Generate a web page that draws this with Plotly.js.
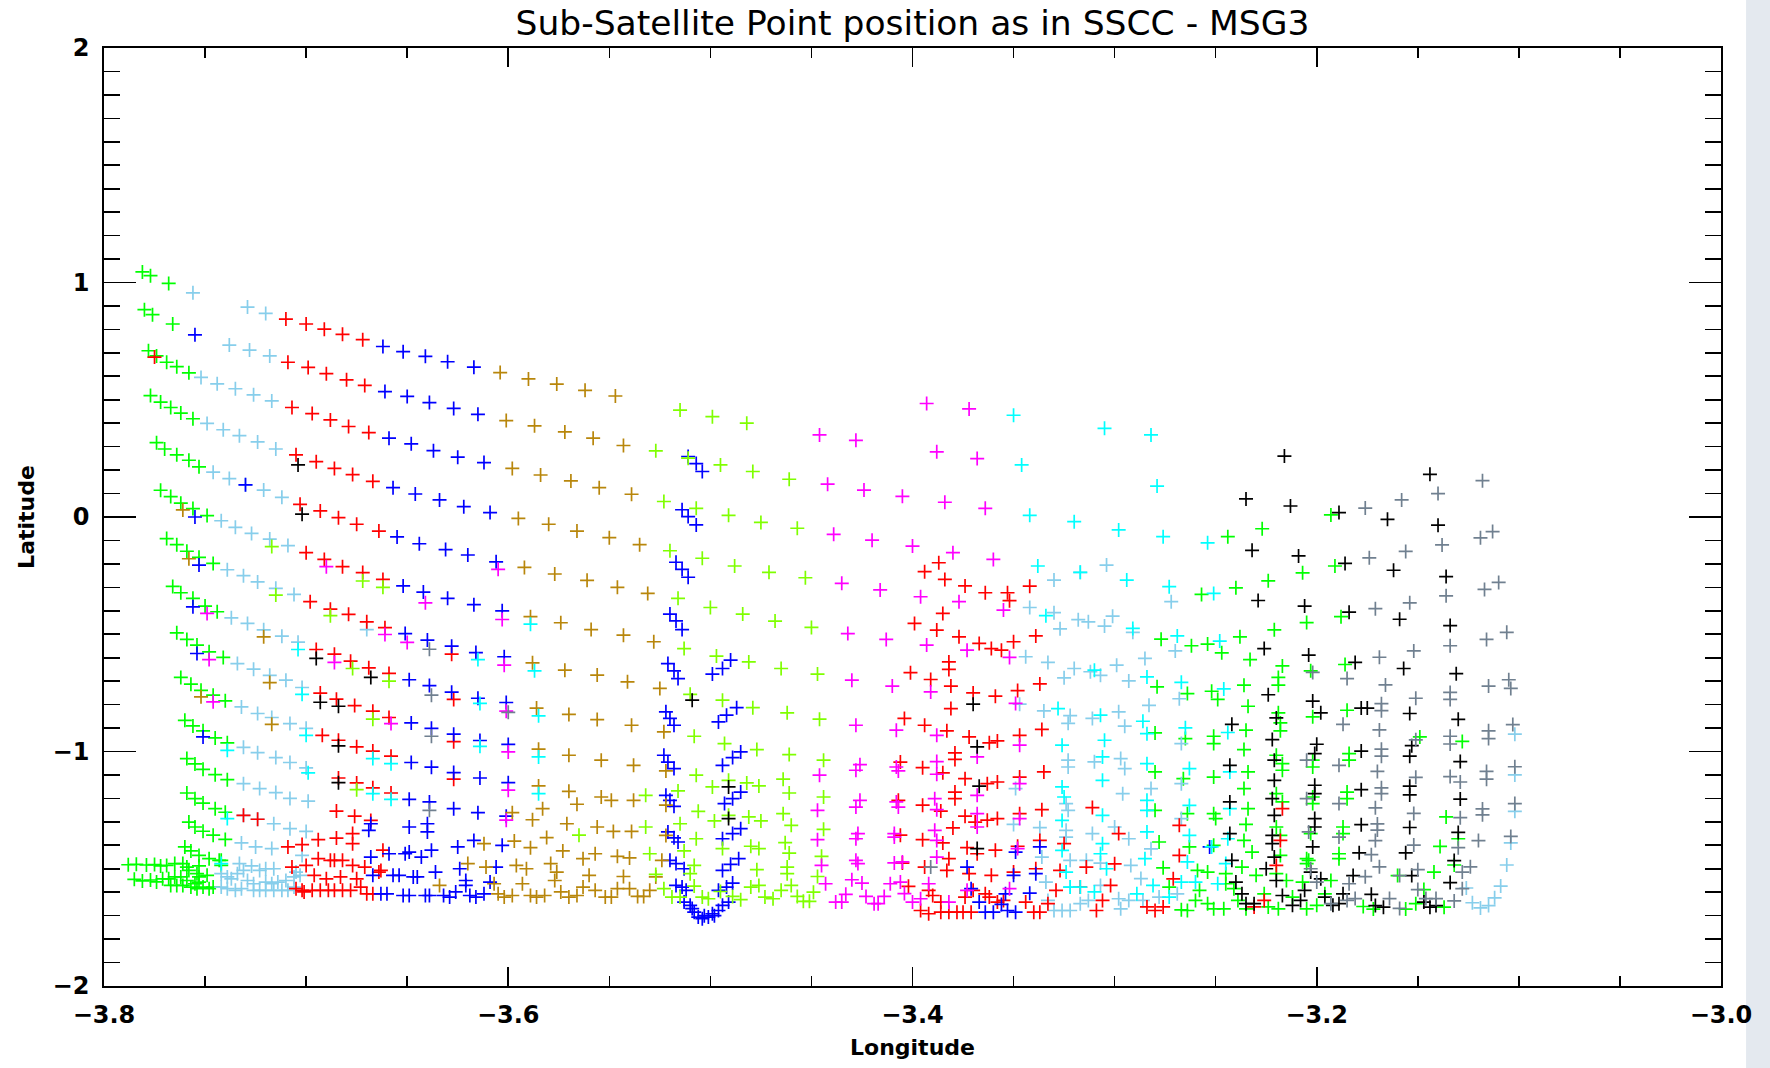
<!DOCTYPE html>
<html>
<head>
<meta charset="utf-8">
<script src="https://cdn.plot.ly/plotly-3.0.1.min.js"></script>
<style>html,body{margin:0;padding:0;background:#fff;}#chart{width:1770px;height:1068px;}</style>
</head>
<body>
<div id="chart"></div>
<script>
// [longitude, latitude] pairs, one array per colour series
const green = [
[-3.781,1.045],[-3.777,1.029],[-3.768,0.996],
[-3.780,0.884],[-3.776,0.863],[-3.766,0.823],
[-3.778,0.709],[-3.774,0.687],[-3.769,0.660],[-3.764,0.641],[-3.758,0.615],
[-3.777,0.518],[-3.772,0.490],[-3.767,0.467],[-3.762,0.443],[-3.756,0.419],
[-3.774,0.317],[-3.770,0.290],[-3.764,0.265],[-3.758,0.242],[-3.753,0.214],
[-3.772,0.114],[-3.767,0.087],[-3.762,0.059],[-3.756,0.036],[-3.749,0.006],
[-3.769,-0.092],[-3.764,-0.118],[-3.759,-0.146],[-3.753,-0.172],[-3.746,-0.198],
[-3.766,-0.296],[-3.762,-0.323],[-3.756,-0.347],[-3.750,-0.380],[-3.744,-0.404],
[-3.764,-0.494],[-3.759,-0.522],[-3.754,-0.546],[-3.748,-0.575],[-3.741,-0.599],
[-3.762,-0.684],[-3.757,-0.713],[-3.752,-0.739],[-3.746,-0.760],[-3.740,-0.784],
[-3.760,-0.867],[-3.756,-0.891],[-3.751,-0.912],[-3.745,-0.942],[-3.739,-0.963],
[-3.759,-1.030],[-3.755,-1.053],[-3.751,-1.076],[-3.745,-1.099],[-3.739,-1.120],
[-3.759,-1.177],[-3.755,-1.201],[-3.751,-1.220],[-3.745,-1.244],[-3.740,-1.259],
[-3.758,-1.301],[-3.755,-1.322],[-3.751,-1.340],[-3.746,-1.357],[-3.740,-1.375],
[-3.760,-1.407],[-3.757,-1.424],[-3.753,-1.443],[-3.748,-1.457],[-3.742,-1.464],
[-3.788,-1.483],[-3.784,-1.481],[-3.779,-1.484],[-3.775,-1.482],[-3.785,-1.545],[-3.781,-1.552],[-3.777,-1.548],[-3.774,-1.556],
[-3.772,-1.488],[-3.769,-1.486],[-3.765,-1.478],[-3.761,-1.478],[-3.759,-1.493],
[-3.771,-1.543],[-3.768,-1.543],[-3.765,-1.535],[-3.762,-1.535],[-3.759,-1.550],
[-3.767,-1.571],[-3.764,-1.571],[-3.761,-1.571],[-3.757,-1.578],[-3.754,-1.585],[-3.751,-1.578],[-3.748,-1.585],
[-3.754,-1.521],[-3.753,-1.535],[-3.749,-1.528],[-3.753,-1.488],[-3.743,-1.464],[-3.742,-1.486],[-3.746,-1.578],[-3.758,-1.507],[-3.755,-1.564],[-3.753,-1.557],
[-3.193,0.009],[-3.227,-0.050],[-3.244,-0.084],[-3.207,-0.238],[-3.191,-0.209],[-3.224,-0.272],[-3.240,-0.302],[-3.257,-0.330],
[-3.277,-0.521],[-3.262,-0.549],[-3.254,-0.542],[-3.247,-0.579],[-3.238,-0.511],[-3.221,-0.481],[-3.205,-0.450],[-3.188,-0.425],
[-3.203,-0.656],[-3.186,-0.629],[-3.233,-0.608],[-3.217,-0.635],[-3.219,-0.684],[-3.219,-0.717],[-3.236,-0.717],[-3.234,-0.807],
[-3.252,-0.743],[-3.249,-0.778],[-3.264,-0.753],[-3.279,-0.724],[-3.280,-0.921],[-3.265,-0.945],[-3.251,-0.935],[-3.251,-0.966],
[-3.235,-0.909],[-3.219,-0.835],[-3.218,-0.878],[-3.218,-0.912],[-3.202,-0.852],[-3.185,-0.824],
[-3.280,-1.087],[-3.280,-1.251],[-3.278,-1.386],[-3.276,-1.496],[-3.266,-1.116],[-3.263,-1.407],[-3.264,-1.265],[-3.273,-1.578],
[-3.267,-1.675],[-3.264,-1.678],[-3.259,-1.507],[-3.260,-1.635],[-3.258,-1.592],[-3.254,-1.514],[-3.254,-1.649],[-3.251,-1.109],
[-3.251,-1.265],[-3.251,-1.400],[-3.250,-1.286],[-3.251,-1.671],[-3.246,-1.671],[-3.245,-1.521],[-3.245,-1.564],[-3.241,-1.585],
[-3.236,-0.992],[-3.234,-1.087],[-3.236,-1.158],[-3.234,-1.244],[-3.235,-1.311],[-3.236,-1.379],[-3.232,-1.429],[-3.237,-1.493],
[-3.230,-1.528],[-3.239,-1.635],[-3.235,-1.671],[-3.226,-1.607],[-3.224,-1.663],[-3.219,-1.671],[-3.220,-1.016],[-3.217,-1.052],
[-3.217,-1.080],[-3.220,-1.180],[-3.217,-1.215],[-3.220,-1.322],[-3.218,-1.358],[-3.218,-1.443],[-3.220,-1.521],[-3.215,-1.550],
[-3.212,-1.621],[-3.207,-1.557],[-3.204,-1.464],[-3.205,-1.671],[-3.200,-1.656],[-3.202,-1.037],[-3.202,-1.066],[-3.202,-1.194],
[-3.202,-1.222],[-3.203,-1.350],[-3.205,-1.457],[-3.205,-1.478],[-3.196,-1.607],[-3.184,-1.009],[-3.184,-1.037],[-3.185,-1.173],
[-3.185,-1.201],[-3.187,-1.322],[-3.187,-1.350],[-3.189,-1.436],[-3.189,-1.457],[-3.193,-1.550],
[-3.177,-1.661],[-3.172,-1.672],[-3.156,-1.672],[-3.151,-1.649],[-3.147,-1.589],[-3.142,-1.514],[-3.139,-1.405],[-3.136,-1.279],
[-3.132,-1.484],[-3.137,-1.664],[-3.128,-0.957],[-3.130,-1.372],[-3.149,-0.938],[-3.160,-1.529]
];
const skyblue = [
[-3.756,0.956],[-3.729,0.895],[-3.720,0.868],
[-3.738,0.733],[-3.728,0.712],[-3.718,0.687],
[-3.752,0.595],[-3.744,0.568],[-3.735,0.547],[-3.726,0.521],[-3.717,0.495],
[-3.749,0.399],[-3.741,0.372],[-3.733,0.347],[-3.724,0.320],[-3.715,0.290],
[-3.746,0.191],[-3.738,0.164],[-3.730,0.137],[-3.721,0.115],[-3.712,0.084],
[-3.742,-0.016],[-3.735,-0.044],[-3.727,-0.070],[-3.718,-0.094],[-3.709,-0.122],
[-3.739,-0.225],[-3.731,-0.250],[-3.724,-0.277],[-3.715,-0.304],[-3.706,-0.330],
[-3.737,-0.430],[-3.729,-0.454],[-3.721,-0.481],[-3.712,-0.508],[-3.704,-0.534],
[-3.734,-0.625],[-3.726,-0.649],[-3.718,-0.675],[-3.710,-0.696],[-3.702,-0.727],
[-3.732,-0.810],[-3.724,-0.838],[-3.717,-0.855],[-3.708,-0.881],[-3.700,-0.901],
[-3.731,-0.982],[-3.724,-1.005],[-3.715,-1.026],[-3.708,-1.047],[-3.700,-1.070],
[-3.731,-1.137],[-3.723,-1.158],[-3.715,-1.175],[-3.708,-1.200],[-3.699,-1.212],
[-3.731,-1.272],[-3.724,-1.289],[-3.716,-1.308],[-3.708,-1.329],[-3.700,-1.341],
[-3.732,-1.390],[-3.725,-1.407],[-3.717,-1.414],[-3.702,-1.443],[-3.670,-0.480],
[-3.742,-1.521],[-3.739,-1.535],[-3.737,-1.543],[-3.734,-1.521],[-3.731,-1.507],[-3.729,-1.550],[-3.726,-1.564],[-3.723,-1.507],
[-3.720,-1.500],[-3.716,-1.500],[-3.714,-1.557],[-3.710,-1.550],[-3.706,-1.535],[-3.705,-1.514],[-3.703,-1.528],
[-3.742,-1.578],[-3.739,-1.585],[-3.735,-1.592],[-3.732,-1.585],[-3.726,-1.592],[-3.723,-1.592],[-3.720,-1.592],[-3.716,-1.592],
[-3.712,-1.592],[-3.709,-1.592],[-3.706,-1.578],[-3.733,-1.478],[-3.727,-1.488],[-3.720,-1.557],[-3.717,-1.564],
[-3.272,-0.361],[-3.304,-0.205],[-3.317,-0.236],[-3.330,-0.269],[-3.342,-0.386],[-3.330,-0.408],[-3.318,-0.438],[-3.313,-0.447],
[-3.327,-0.477],[-3.301,-0.423],[-3.305,-0.465],[-3.291,-0.492],[-3.270,-0.571],[-3.268,-0.775],[-3.283,-0.803],[-3.285,-0.603],
[-3.299,-0.632],[-3.293,-0.699],[-3.320,-0.646],[-3.312,-0.660],[-3.307,-0.675],[-3.325,-0.686],[-3.333,-0.620],[-3.344,-0.596],
[-3.347,-0.798],[-3.335,-0.827],[-3.322,-0.847],[-3.323,-0.880],[-3.311,-0.859],[-3.298,-0.831],[-3.295,-0.892],
[-3.349,-1.158],[-3.350,-1.311],[-3.337,-1.325],[-3.336,-1.450],[-3.334,-1.557],[-3.333,-1.635],[-3.330,-1.678],[-3.326,-1.678],
[-3.322,-1.678],[-3.323,-1.037],[-3.323,-1.066],[-3.324,-1.222],[-3.323,-1.251],[-3.324,-1.336],[-3.324,-1.365],[-3.322,-1.464],
[-3.322,-1.578],[-3.317,-1.649],[-3.314,-1.464],[-3.311,-1.350],[-3.310,-1.044],[-3.307,-1.476],[-3.307,-1.571],[-3.313,-1.635],
[-3.300,-1.322],[-3.297,-1.030],[-3.295,-1.073],[-3.298,-1.628],[-3.297,-1.671],[-3.293,-1.635],[-3.292,-1.486],[-3.293,-1.372],
[-3.296,-1.180],[-3.282,-1.158],[-3.282,-1.415],[-3.287,-1.542],[-3.286,-1.635],[-3.278,-1.621],[-3.267,-1.286],[-3.267,-1.137],
[-3.267,-0.966],[-3.269,-1.607],
[-3.102,-0.926],[-3.102,-1.100],[-3.102,-1.255],[-3.104,-1.390],[-3.106,-1.484],[-3.109,-1.574],[-3.112,-1.624],[-3.115,-1.657],
[-3.119,-1.667],[-3.123,-1.645],[-3.126,-1.582]
];
const red = [
[-3.710,0.844],[-3.700,0.823],[-3.691,0.801],[-3.682,0.779],[-3.672,0.756],
[-3.709,0.660],[-3.699,0.638],[-3.690,0.611],[-3.680,0.585],[-3.671,0.561],
[-3.775,0.682],[-3.707,0.467],[-3.697,0.441],[-3.688,0.414],[-3.679,0.386],[-3.669,0.360],
[-3.705,0.265],[-3.695,0.236],[-3.686,0.207],[-3.677,0.181],[-3.667,0.152],
[-3.703,0.054],[-3.693,0.026],[-3.684,-0.003],[-3.675,-0.031],[-3.664,-0.060],
[-3.700,-0.152],[-3.691,-0.181],[-3.682,-0.212],[-3.672,-0.237],[-3.662,-0.266],
[-3.698,-0.361],[-3.688,-0.393],[-3.679,-0.415],[-3.670,-0.447],[-3.661,-0.472],
[-3.695,-0.565],[-3.686,-0.585],[-3.678,-0.615],[-3.669,-0.643],[-3.659,-0.667],
[-3.693,-0.751],[-3.685,-0.777],[-3.676,-0.804],[-3.667,-0.828],[-3.659,-0.855],
[-3.692,-0.931],[-3.684,-0.952],[-3.675,-0.980],[-3.667,-0.998],[-3.658,-1.020],
[-3.684,-1.113],[-3.675,-1.134],[-3.667,-1.155],[-3.658,-1.177],
[-3.628,-0.585],[-3.627,-0.778],[-3.627,-0.958],[-3.627,-1.118],
[-3.731,-1.272],[-3.724,-1.289],[-3.685,-1.254],[-3.676,-1.276],[-3.668,-1.294],
[-3.709,-1.407],[-3.702,-1.397],[-3.694,-1.376],[-3.685,-1.369],[-3.677,-1.350],[-3.677,-1.393],[-3.662,-1.421],
[-3.707,-1.493],[-3.705,-1.585],[-3.702,-1.592],[-3.700,-1.486],[-3.696,-1.528],[-3.694,-1.457],[-3.693,-1.592],[-3.690,-1.543],
[-3.688,-1.464],[-3.686,-1.464],[-3.686,-1.592],[-3.683,-1.535],[-3.682,-1.464],[-3.678,-1.592],[-3.677,-1.486],[-3.675,-1.543],
[-3.673,-1.578],[-3.671,-1.493],[-3.670,-1.607],[-3.667,-1.607],[-3.664,-1.514],[-3.663,-1.507],[-3.701,-1.599],[-3.697,-1.592],
[-3.689,-1.592],[-3.682,-1.592],
[-3.387,-0.195],[-3.394,-0.233],[-3.384,-0.266],[-3.374,-0.294],[-3.364,-0.323],
[-3.399,-0.454],[-3.388,-0.482],[-3.385,-0.411],[-3.377,-0.511],[-3.367,-0.539],[-3.361,-0.561],[-3.382,-0.618],[-3.382,-0.650],
[-3.401,-0.664],[-3.391,-0.693],[-3.381,-0.721],[-3.370,-0.750],[-3.359,-0.764],[-3.381,-0.817],[-3.404,-0.859],[-3.394,-0.888],
[-3.383,-0.912],[-3.372,-0.938],[-3.362,-0.963],[-3.358,-0.955],[-3.379,-1.006],[-3.379,-1.034],[-3.406,-1.045],[-3.395,-1.069],
[-3.385,-1.091],[-3.374,-1.116],[-3.363,-1.137],[-3.358,-1.130],[-3.379,-1.173],[-3.379,-1.201],[-3.407,-1.208],[-3.395,-1.229],
[-3.386,-1.254],[-3.374,-1.276],[-3.369,-1.301],[-3.363,-1.293],[-3.358,-1.286],[-3.380,-1.326],[-3.406,-1.357],[-3.395,-1.376],
[-3.385,-1.390],[-3.373,-1.410],[-3.368,-1.436],[-3.359,-1.421],[-3.382,-1.457],[-3.405,-1.476],[-3.394,-1.493],[-3.383,-1.507],
[-3.372,-1.521],[-3.361,-1.528],[-3.402,-1.575],[-3.392,-1.592],[-3.390,-1.614],[-3.386,-1.642],[-3.396,-1.678],[-3.392,-1.692],
[-3.386,-1.685],[-3.382,-1.685],[-3.378,-1.685],[-3.375,-1.685],[-3.371,-1.685],[-3.374,-1.621],[-3.370,-1.592],[-3.364,-1.607],
[-3.362,-1.621],[-3.358,-1.642],
[-3.342,-0.295],[-3.353,-0.323],[-3.352,-0.357],[-3.339,-0.507],[-3.350,-0.532],[-3.356,-0.568],[-3.337,-0.712],[-3.348,-0.740],
[-3.336,-0.906],[-3.347,-0.931],
[-3.347,-1.109],[-3.347,-1.265],[-3.348,-1.404],[-3.350,-1.514],[-3.355,-1.635],[-3.344,-1.642],[-3.340,-1.685],[-3.337,-1.685],
[-3.339,-1.500],[-3.335,-1.087],[-3.336,-1.248],[-3.337,-1.379],[-3.333,-1.649],[-3.329,-1.592],[-3.327,-1.507],[-3.325,-1.393],
[-3.317,-1.578],[-3.314,-1.493],[-3.311,-1.239],[-3.309,-1.678],[-3.306,-1.635],[-3.302,-1.571],[-3.300,-1.479],[-3.298,-1.350],
[-3.284,-1.663],[-3.280,-1.678],[-3.276,-1.663],[-3.271,-1.543],[-3.268,-1.443],[-3.268,-1.315],[-3.231,-1.663],[-3.226,-1.635],
[-3.218,-1.379],[-3.217,-1.244],[-3.220,-1.486]
];
const blue = [
[-3.662,0.727],[-3.652,0.705],[-3.641,0.685],[-3.630,0.662],[-3.617,0.639],
[-3.755,0.777],[-3.661,0.535],[-3.650,0.514],[-3.639,0.488],[-3.627,0.463],[-3.615,0.438],
[-3.659,0.336],[-3.648,0.312],[-3.637,0.283],[-3.625,0.255],[-3.612,0.232],
[-3.657,0.125],[-3.646,0.098],[-3.634,0.073],[-3.622,0.044],[-3.609,0.019],
[-3.730,0.137],[-3.655,-0.085],[-3.644,-0.114],[-3.631,-0.139],[-3.620,-0.162],[-3.606,-0.191],
[-3.755,0.000],[-3.652,-0.294],[-3.642,-0.320],[-3.630,-0.347],[-3.617,-0.374],[-3.603,-0.400],
[-3.753,-0.205],[-3.651,-0.497],[-3.640,-0.525],[-3.628,-0.551],[-3.616,-0.578],[-3.602,-0.596],
[-3.756,-0.383],[-3.649,-0.694],[-3.639,-0.719],[-3.628,-0.747],[-3.615,-0.773],[-3.601,-0.791],
[-3.754,-0.582],[-3.648,-0.878],[-3.638,-0.901],[-3.627,-0.926],[-3.614,-0.953],[-3.600,-0.970],
[-3.648,-1.047],[-3.638,-1.067],[-3.627,-1.090],[-3.614,-1.113],[-3.600,-1.133],
[-3.751,-0.938],[-3.649,-1.204],[-3.639,-1.215],[-3.627,-1.244],[-3.615,-1.261],[-3.601,-1.276],
[-3.511,0.258],[-3.507,0.228],[-3.504,0.194],[-3.514,0.031],[-3.511,0.002],[-3.507,-0.034],
[-3.517,-0.193],[-3.514,-0.223],[-3.511,-0.257],[-3.520,-0.414],[-3.517,-0.443],[-3.514,-0.480],
[-3.521,-0.625],[-3.518,-0.656],[-3.516,-0.689],[-3.522,-0.831],[-3.520,-0.859],[-3.518,-0.888],
[-3.523,-1.016],[-3.521,-1.045],[-3.518,-1.073],[-3.522,-1.187],[-3.520,-1.208],[-3.518,-1.234],
[-3.521,-1.343],[-3.518,-1.368],[-3.516,-1.386],[-3.520,-1.464],[-3.517,-1.478],[-3.513,-1.500],
[-3.517,-1.571],[-3.514,-1.578],[-3.512,-1.592],
[-3.513,-1.642],[-3.510,-1.656],[-3.508,-1.685],[-3.506,-1.706],[-3.504,-1.713],[-3.501,-1.706],[-3.499,-1.692],[-3.496,-1.678],
[-3.494,-1.656],[-3.491,-1.642],[-3.509,-1.670],[-3.503,-1.700],[-3.498,-1.700],
[-3.499,-0.670],[-3.494,-0.646],[-3.490,-0.610],[-3.496,-0.874],[-3.492,-0.845],[-3.487,-0.813],
[-3.494,-1.059],[-3.489,-1.026],[-3.485,-1.002],[-3.493,-1.222],[-3.489,-1.201],[-3.485,-1.173],
[-3.494,-1.372],[-3.489,-1.350],[-3.485,-1.329],[-3.494,-1.507],[-3.490,-1.481],[-3.486,-1.457],
[-3.496,-1.592],[-3.492,-1.578],[-3.489,-1.561],
[-3.669,-1.336],[-3.668,-1.308],[-3.668,-1.450],[-3.667,-1.528],[-3.663,-1.607],[-3.660,-1.607],[-3.659,-1.436],[-3.657,-1.528],
[-3.654,-1.528],[-3.652,-1.614],[-3.649,-1.614],[-3.651,-1.436],[-3.649,-1.429],[-3.647,-1.535],[-3.645,-1.535],[-3.643,-1.450],
[-3.641,-1.614],[-3.639,-1.614],[-3.638,-1.421],[-3.636,-1.514],[-3.632,-1.614],[-3.629,-1.621],[-3.626,-1.599],[-3.624,-1.500],
[-3.621,-1.550],[-3.621,-1.571],[-3.619,-1.614],[-3.616,-1.621],[-3.612,-1.607],[-3.609,-1.557],[-3.606,-1.493],[-3.603,-1.400],
[-3.625,-1.407],[-3.617,-1.379],[-3.649,-1.322],[-3.640,-1.308],[-3.640,-1.343],
[-3.373,-1.493],[-3.371,-1.585],[-3.367,-1.642],[-3.364,-1.685],[-3.360,-1.685],[-3.356,-1.652],
[-3.349,-1.429],[-3.354,-1.607],[-3.353,-1.678],[-3.349,-1.685],[-3.342,-1.604],[-3.339,-1.521],[-3.337,-1.407],[-3.350,-1.528],
[-3.253,-1.407]
];
const gold = [
[-3.604,0.616],[-3.590,0.589],[-3.576,0.567],[-3.562,0.540],[-3.547,0.516],
[-3.601,0.411],[-3.587,0.389],[-3.572,0.363],[-3.558,0.336],[-3.543,0.305],
[-3.598,0.207],[-3.584,0.179],[-3.569,0.154],[-3.555,0.125],[-3.539,0.097],
[-3.595,-0.006],[-3.580,-0.031],[-3.566,-0.060],[-3.550,-0.088],[-3.535,-0.118],
[-3.592,-0.215],[-3.577,-0.243],[-3.561,-0.270],[-3.546,-0.300],[-3.531,-0.326],
[-3.761,0.030],[-3.589,-0.425],[-3.574,-0.451],[-3.559,-0.480],[-3.543,-0.504],[-3.528,-0.532],
[-3.758,-0.178],[-3.588,-0.622],[-3.572,-0.653],[-3.556,-0.674],[-3.541,-0.703],[-3.525,-0.731],
[-3.721,-0.511],[-3.586,-0.815],[-3.570,-0.842],[-3.556,-0.864],[-3.539,-0.888],[-3.523,-0.916],
[-3.718,-0.706],[-3.585,-0.990],[-3.570,-1.016],[-3.554,-1.037],[-3.538,-1.059],[-3.522,-1.083],
[-3.752,-0.767],[-3.717,-0.884],[-3.585,-1.147],[-3.570,-1.170],[-3.554,-1.194],[-3.549,-1.208],[-3.538,-1.208],[-3.522,-1.229],
[-3.598,-1.261],[-3.583,-1.244],[-3.566,-1.225],[-3.588,-1.291],[-3.571,-1.308],[-3.556,-1.322],[-3.548,-1.341],[-3.539,-1.341],
[-3.522,-1.358],[-3.597,-1.382],[-3.581,-1.367],[-3.589,-1.410],[-3.573,-1.424],[-3.612,-1.393],[-3.557,-1.436],[-3.546,-1.447],
[-3.540,-1.454],[-3.524,-1.464],[-3.563,-1.457],
[-3.634,-1.571],[-3.620,-1.478],[-3.611,-1.493],[-3.607,-1.564],[-3.605,-1.607],[-3.602,-1.621],[-3.598,-1.614],[-3.596,-1.486],
[-3.593,-1.564],[-3.591,-1.500],[-3.589,-1.614],[-3.586,-1.621],[-3.582,-1.614],[-3.579,-1.478],[-3.576,-1.514],[-3.577,-1.550],
[-3.574,-1.599],[-3.570,-1.621],[-3.566,-1.614],[-3.563,-1.578],[-3.560,-1.528],[-3.543,-1.533],[-3.527,-1.535],[-3.557,-1.592],
[-3.552,-1.621],[-3.549,-1.621],[-3.546,-1.585],[-3.540,-1.585],[-3.536,-1.618],[-3.533,-1.618],[-3.530,-1.592]
];
const chartreuse = [
[-3.515,0.456],[-3.499,0.428],[-3.482,0.400],
[-3.527,0.282],[-3.511,0.251],[-3.495,0.222],[-3.479,0.194],[-3.461,0.161],
[-3.523,0.066],[-3.507,0.037],[-3.491,0.007],[-3.475,-0.023],[-3.457,-0.048],
[-3.520,-0.144],[-3.504,-0.176],[-3.488,-0.209],[-3.471,-0.236],[-3.453,-0.259],
[-3.516,-0.347],[-3.500,-0.386],[-3.484,-0.414],[-3.468,-0.444],[-3.450,-0.471],
[-3.513,-0.561],[-3.497,-0.593],[-3.481,-0.618],[-3.465,-0.646],[-3.447,-0.670],
[-3.510,-0.756],[-3.494,-0.781],[-3.479,-0.813],[-3.462,-0.835],[-3.446,-0.862],
[-3.508,-0.935],[-3.493,-0.966],[-3.477,-0.992],[-3.461,-1.013],[-3.444,-1.037],
[-3.507,-1.101],[-3.491,-1.123],[-3.482,-1.134],[-3.476,-1.147],[-3.464,-1.118],[-3.461,-1.177],[-3.444,-1.194],[-3.499,-1.151],
[-3.516,-1.168],[-3.532,-1.187],
[-3.506,-1.255],[-3.491,-1.272],[-3.498,-1.296],[-3.481,-1.279],[-3.475,-1.296],[-3.464,-1.265],[-3.460,-1.315],[-3.444,-1.332],
[-3.532,-1.322],[-3.515,-1.308],
[-3.507,-1.372],[-3.513,-1.424],[-3.530,-1.436],[-3.508,-1.486],[-3.494,-1.414],[-3.480,-1.404],[-3.476,-1.414],[-3.463,-1.389],
[-3.461,-1.433],[-3.445,-1.447],
[-3.510,-1.521],[-3.527,-1.524],[-3.477,-1.504],[-3.462,-1.493],[-3.462,-1.521],[-3.447,-1.533],[-3.508,-1.574],[-3.523,-1.585],
[-3.519,-1.621],[-3.515,-1.621],[-3.504,-1.621],[-3.501,-1.628],[-3.495,-1.597],[-3.489,-1.618],[-3.485,-1.632],[-3.480,-1.578],
[-3.476,-1.571],[-3.473,-1.621],[-3.469,-1.628],[-3.465,-1.592],[-3.460,-1.571],[-3.457,-1.618],[-3.454,-1.639],[-3.451,-1.639],
[-3.449,-1.600],
[-3.717,-0.126],[-3.672,-0.273],[-3.662,-0.300],[-3.715,-0.333],[-3.688,-0.421],[-3.677,-0.646],[-3.659,-0.700],[-3.667,-0.862],
[-3.675,-1.163],[-3.565,-1.357]
];
const magenta = [
[-3.446,0.350],[-3.428,0.327],[-3.393,0.484],[-3.372,0.461],
[-3.388,0.278],[-3.368,0.249],
[-3.442,0.140],[-3.424,0.115],[-3.405,0.088],[-3.384,0.063],[-3.364,0.037],
[-3.439,-0.074],[-3.420,-0.099],[-3.400,-0.124],[-3.380,-0.152],[-3.360,-0.181],
[-3.435,-0.283],[-3.416,-0.311],[-3.396,-0.340],[-3.377,-0.361],[-3.355,-0.397],
[-3.432,-0.497],[-3.413,-0.522],[-3.393,-0.546],[-3.373,-0.568],[-3.352,-0.599],
[-3.430,-0.696],[-3.410,-0.721],[-3.391,-0.746],[-3.349,-0.795],
[-3.428,-0.888],[-3.408,-0.909],[-3.388,-0.931],[-3.368,-1.023],
[-3.426,-1.056],[-3.428,-1.080],[-3.408,-1.066],[-3.407,-1.083],[-3.388,-1.043],[-3.388,-1.097],[-3.426,-1.208],[-3.428,-1.237],
[-3.408,-1.215],[-3.407,-1.237],[-3.389,-1.201],[-3.388,-1.248],[-3.447,-1.251],[-3.446,-1.101],[-3.368,-1.187],[-3.368,-1.265],
[-3.427,-1.350],[-3.428,-1.372],[-3.447,-1.376],[-3.409,-1.350],[-3.409,-1.365],[-3.389,-1.336],[-3.388,-1.379],[-3.368,-1.322],
[-3.445,-1.486],[-3.428,-1.464],[-3.427,-1.478],[-3.409,-1.475],[-3.405,-1.471],[-3.388,-1.450],[-3.443,-1.564],[-3.433,-1.609],
[-3.438,-1.642],[-3.435,-1.642],[-3.430,-1.547],[-3.425,-1.561],[-3.423,-1.618],[-3.419,-1.649],[-3.417,-1.649],[-3.414,-1.618],
[-3.411,-1.564],[-3.406,-1.557],[-3.404,-1.606],[-3.400,-1.642],[-3.396,-1.628],[-3.392,-1.564],[-3.382,-1.642],[-3.373,-1.592],
[-3.347,-0.973],[-3.347,-1.137],[-3.347,-1.286],[-3.348,-1.414],[-3.352,-1.585],
[-3.605,-0.223],[-3.690,-0.212],[-3.749,-0.411],[-3.686,-0.620],[-3.661,-0.501],[-3.650,-0.535],[-3.603,-0.437],[-3.602,-0.632],
[-3.601,-0.828],[-3.658,-0.881],[-3.600,-1.002],[-3.748,-0.608],[-3.746,-0.788],[-3.600,-1.165],[-3.601,-1.293],[-3.641,-0.366]
];
const cyan = [
[-3.350,0.434],[-3.305,0.378],[-3.282,0.350],
[-3.346,0.222],[-3.279,0.132],
[-3.342,0.007],[-3.320,-0.020],[-3.298,-0.055],[-3.276,-0.084],[-3.254,-0.110],
[-3.338,-0.209],[-3.294,-0.269],[-3.273,-0.297],[-3.251,-0.326],
[-3.317,-0.236],[-3.334,-0.421],[-3.291,-0.475],[-3.269,-0.507],[-3.248,-0.529],[-3.310,-0.653],[-3.284,-0.682],[-3.267,-0.705],
[-3.246,-0.733],[-3.328,-0.817],[-3.307,-0.845],[-3.286,-0.871],[-3.284,-0.924],[-3.265,-0.899],[-3.244,-0.919],[-3.305,-0.952],
[-3.326,-0.973],
[-3.326,-1.151],[-3.325,-1.194],[-3.326,-1.294],[-3.326,-1.422],[-3.324,-1.514],[-3.322,-1.578],[-3.317,-1.578],[-3.306,-1.023],
[-3.306,-1.123],[-3.306,-1.272],[-3.306,-1.393],[-3.307,-1.436],[-3.304,-1.500],[-3.310,-1.599],[-3.284,-1.052],[-3.284,-1.208],
[-3.284,-1.251],[-3.284,-1.343],[-3.285,-1.457],[-3.289,-1.607],[-3.281,-1.571],[-3.263,-1.073],[-3.263,-1.230],[-3.263,-1.358],
[-3.264,-1.471],[-3.267,-1.557],[-3.273,-1.621],[-3.260,-1.557],[-3.252,-1.407],[-3.249,-1.564],[-3.243,-1.087],[-3.243,-1.244],
[-3.244,-1.372],[-3.245,-1.478],
[-3.739,-0.995],[-3.699,-1.091],[-3.667,-1.180],[-3.658,-1.204],[-3.700,-0.931],[-3.667,-1.030],[-3.658,-1.052],[-3.702,-0.756],
[-3.614,-0.978],[-3.585,-1.023],[-3.704,-0.565],[-3.614,-0.795],[-3.585,-0.848],[-3.615,-0.608],[-3.587,-0.656],[-3.589,-0.457],
[-3.585,-1.180],[-3.739,-1.286],[-3.742,-1.478]
];
const black = [
[-3.704,0.222],[-3.702,0.012],[-3.695,-0.603],[-3.668,-0.684],[-3.693,-0.790],[-3.684,-0.807],[-3.684,-0.976],[-3.684,-1.133],
[-3.509,-0.781],[-3.491,-1.151],[-3.491,-1.286],[-3.370,-0.798],[-3.368,-0.980],[-3.367,-1.148],[-3.368,-1.414],
[-3.216,0.260],[-3.235,0.077],[-3.213,0.047],[-3.189,0.019],[-3.186,-0.198],[-3.232,-0.142],[-3.209,-0.166],[-3.229,-0.356],
[-3.206,-0.380],[-3.226,-0.561],[-3.204,-0.589],[-3.224,-0.758],[-3.220,-0.857],[-3.222,-0.949],[-3.202,-0.785],[-3.198,-0.835],
[-3.200,-0.969],[-3.242,-0.884],[-3.243,-1.059],[-3.243,-1.215],[-3.243,-1.350],[-3.242,-1.464],[-3.240,-1.557],[-3.237,-1.607],
[-3.235,-1.649],[-3.231,-1.649],[-3.221,-1.037],[-3.221,-1.123],[-3.222,-1.201],[-3.221,-1.272],[-3.222,-1.358],[-3.222,-1.393],
[-3.221,-1.450],[-3.225,-1.500],[-3.220,-1.550],[-3.217,-1.614],[-3.212,-1.656],[-3.208,-1.635],[-3.206,-1.592],[-3.203,-1.514],
[-3.202,-1.407],[-3.201,-1.322],[-3.201,-1.286],[-3.201,-1.180],[-3.201,-1.144],[-3.201,-1.009],[-3.198,-1.543],[-3.196,-1.621],
[-3.192,-1.656],[-3.189,-1.649],[-3.187,-1.607],
[-3.184,-0.406],[-3.181,-0.620],[-3.178,-0.815],[-3.175,-0.815],[-3.178,-0.998],[-3.178,-1.163],[-3.178,-1.312],[-3.179,-1.432],
[-3.182,-1.529],[-3.173,-1.609],[-3.171,-1.657],[-3.167,-1.664],[-3.165,-0.010],[-3.162,-0.227],[-3.159,-0.436],[-3.157,-0.646],
[-3.154,-0.838],[-3.153,-0.975],[-3.154,-1.020],[-3.154,-1.148],[-3.154,-1.185],[-3.154,-1.324],[-3.156,-1.432],[-3.153,-1.529],
[-3.147,-1.642],[-3.144,-1.664],[-3.144,0.182],[-3.140,-0.035],[-3.136,-0.254],[-3.134,-0.463],[-3.131,-0.668],[-3.130,-0.863],
[-3.129,-1.043],[-3.129,-1.203],[-3.130,-1.345],[-3.132,-1.465],[-3.134,-1.559],[-3.141,-1.657]
];
const slategray = [
[-3.639,-0.564],[-3.638,-0.760],[-3.638,-0.935],[-3.639,-1.251],[-3.600,-0.833],[-3.391,-1.493],
[-3.202,-0.663],[-3.185,-0.689],[-3.187,-0.884],
[-3.205,-1.037],[-3.205,-1.201],[-3.204,-1.343],[-3.203,-1.500],[-3.200,-1.557],[-3.193,-1.649],[-3.189,-1.059],[-3.189,-1.222],
[-3.189,-1.365],[-3.184,-1.564],[-3.185,-1.635],
[-3.118,0.155],[-3.140,0.100],[-3.158,0.073],[-3.176,0.038],[-3.113,-0.062],[-3.119,-0.089],[-3.138,-0.119],[-3.156,-0.147],
[-3.174,-0.174],[-3.110,-0.279],[-3.117,-0.309],[-3.136,-0.336],[-3.154,-0.366],[-3.171,-0.391],[-3.106,-0.492],[-3.116,-0.522],
[-3.134,-0.549],[-3.152,-0.571],[-3.169,-0.598],[-3.105,-0.694],[-3.104,-0.731],[-3.115,-0.721],[-3.166,-0.716],[-3.134,-0.748],
[-3.134,-0.778],[-3.151,-0.773],[-3.168,-0.796],[-3.168,-0.826],[-3.103,-0.885],[-3.115,-0.912],[-3.115,-0.945],[-3.134,-0.935],
[-3.134,-0.968],[-3.151,-0.950],[-3.169,-0.908],[-3.168,-0.990],[-3.168,-1.020],[-3.102,-1.065],[-3.116,-1.085],[-3.116,-1.118],
[-3.134,-1.107],[-3.129,-1.130],[-3.151,-1.110],[-3.170,-1.085],[-3.168,-1.155],[-3.168,-1.180],[-3.102,-1.222],[-3.118,-1.245],
[-3.118,-1.270],[-3.129,-1.282],[-3.152,-1.264],[-3.171,-1.240],[-3.170,-1.309],[-3.170,-1.335],[-3.104,-1.362],[-3.120,-1.380],
[-3.130,-1.410],[-3.152,-1.399],[-3.171,-1.380],[-3.173,-1.440],[-3.124,-1.492],[-3.128,-1.514],[-3.150,-1.504],[-3.169,-1.492],
[-3.176,-1.534],[-3.128,-1.585],[-3.132,-1.637],[-3.146,-1.627],[-3.141,-1.627],[-3.159,-1.669],[-3.164,-1.627],[-3.159,-1.529],
[-3.150,-1.589],[-3.181,-1.627]
];

const seriesList = [
  {name:'green', pts:green, color:'#00ff00'},
  {name:'skyblue', pts:skyblue, color:'#87ceeb'},
  {name:'red', pts:red, color:'#ff0000'},
  {name:'blue', pts:blue, color:'#0000ff'},
  {name:'gold', pts:gold, color:'#b8860b'},
  {name:'chartreuse', pts:chartreuse, color:'#7fff00'},
  {name:'magenta', pts:magenta, color:'#ff00ff'},
  {name:'cyan', pts:cyan, color:'#00ffff'},
  {name:'black', pts:black, color:'#000000'},
  {name:'slategray', pts:slategray, color:'#708090'}
];

const traces = seriesList.map(s => ({
  type:'scatter', mode:'markers', name:s.name,
  x:s.pts.map(p=>p[0]), y:s.pts.map(p=>p[1]),
  marker:{symbol:'cross-thin', size:10, color:s.color, line:{width:1.7, color:s.color}},
  hoverinfo:'skip', showlegend:false
}));

const tickFont = {family:'DejaVu Sans', size:24, color:'#000', weight:700};
const titleFont = {family:'DejaVu Sans', size:22, color:'#000', weight:700};
const layout = {
  width:1770, height:1068,
  paper_bgcolor:'#ffffff', plot_bgcolor:'#ffffff',
  margin:{l:104, r:49, t:48, b:82, pad:0},
  showlegend:false,
  title:{text:'Sub-Satellite Point position as in SSCC - MSG3', font:{family:'DejaVu Sans', size:34.5, color:'#000'},
         x:0.5, xref:'paper', xanchor:'center', y:0.979, yref:'container', yanchor:'middle'},
  xaxis:{range:[-3.8,-3.0], tick0:-3.8, dtick:0.2, tickformat:'.1f', ticks:'inside', ticklen:19, tickwidth:1.6, tickcolor:'#000',
         showline:true, linecolor:'#000', linewidth:1.8, mirror:'allticks', showgrid:false, zeroline:false,
         tickfont:tickFont, ticklabelstandoff:6,
         minor:{tick0:-3.8, dtick:0.05, ticks:'inside', ticklen:10, tickwidth:1.6, tickcolor:'#000', showgrid:false},
         title:{text:'Longitude', font:titleFont, standoff:12}},
  yaxis:{range:[-2,2], tick0:-2, dtick:1, ticks:'inside', ticklen:32, tickwidth:1.6, tickcolor:'#000',
         showline:true, linecolor:'#000', linewidth:1.8, mirror:'allticks', showgrid:false, zeroline:false,
         tickfont:tickFont, ticklabelstandoff:8,
         minor:{tick0:-2, dtick:0.1, ticks:'inside', ticklen:16, tickwidth:1.6, tickcolor:'#000', showgrid:false},
         title:{text:'Latitude', font:titleFont, standoff:12}},
  shapes:[{type:'rect', xref:'paper', yref:'paper', x0:1.0155, x1:1.04, y0:-0.1, y1:1.06,
           fillcolor:'#e4e9ef', line:{width:0}, layer:'below'}]
};

Plotly.newPlot('chart', traces, layout, {staticPlot:true, displayModeBar:false});
</script>
</body>
</html>
